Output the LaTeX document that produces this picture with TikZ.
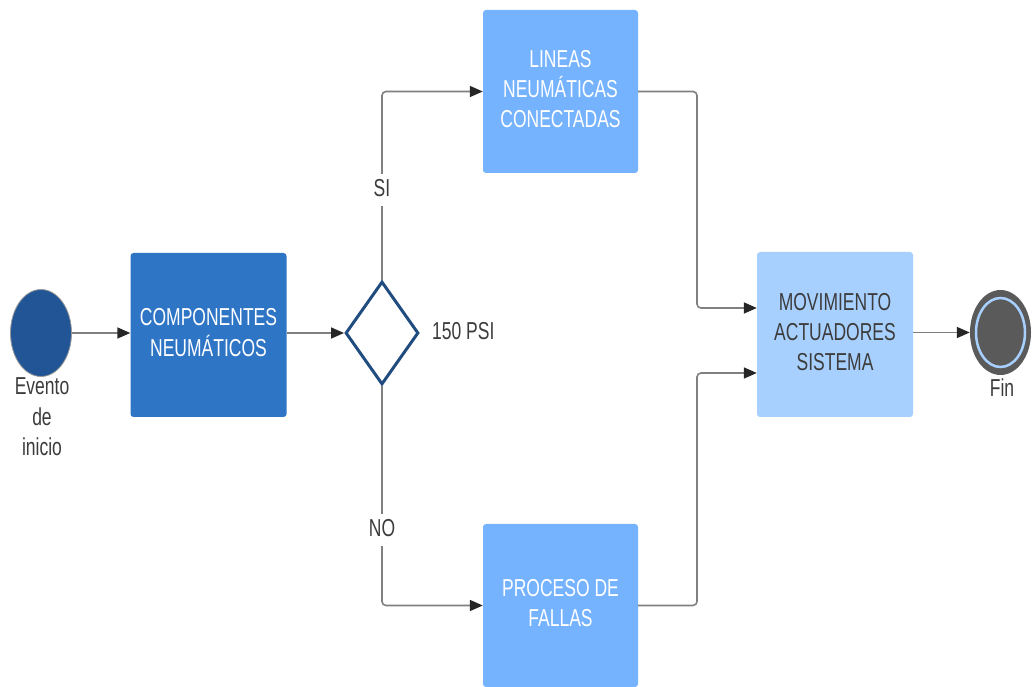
\documentclass[tikz,border=0pt]{standalone}
\usepackage{graphicx}
\usepackage{fontspec}
\setmainfont{Liberation Sans}
\usetikzlibrary{positioning,shapes.geometric,arrows.meta}
\definecolor{startblue}{RGB}{33,85,150}
\definecolor{compblue} {RGB}{46,117,198}
\definecolor{stepblue} {RGB}{118,179,255}
\definecolor{paleblue} {RGB}{168,208,255}
\definecolor{decblue}  {RGB}{32,76,128}
\definecolor{linegray} {RGB}{128,128,128}
\definecolor{textgray} {RGB}{60,60,60}
\definecolor{ringgray} {RGB}{90,90,90}
\newcommand{\tallText}[1]{\scalebox{1}[1.4]{\begin{tabular}{@{}c@{}}#1\end{tabular}}}

\tikzset{
  box/.style={rectangle, rounded corners=3pt, minimum width=156pt,
              minimum height=164pt, inner sep=0pt, font=\fontsize{17.5}{21.5}\selectfont},
  flow/.style={draw=linegray, line width=1.6pt, rounded corners=4pt,
               -{Triangle[length=13pt,width=11pt,fill=black!85,color=black!85]}},
  lbl/.style={text=textgray, inner sep=1pt, font=\fontsize{17.5}{21.5}\selectfont}
}

\begin{document}
\begin{tikzpicture}[x=1pt,y=1pt]
    \useasboundingbox (0,0) rectangle (1034,686);

    % eventos
    \node[ellipse, fill=startblue, draw=black!40, line width=0.8pt,
          minimum width=61pt, minimum height=87pt, inner sep=0pt] (inicio) at (41,353) {};
    \node[lbl] (inicio-lbl) at (42,267) {\tallText{Evento\\de\\inicio}};

    \node[ellipse, fill=ringgray, minimum width=61pt, minimum height=85pt,
          inner sep=0pt] (fin) at (1000.5,353.5) {};
    \node[ellipse, fill=ringgray, draw=paleblue, line width=2.5pt,
          minimum width=49pt, minimum height=69pt, inner sep=0pt] (fin-in) at (fin.center) {};
    \node[lbl] (fin-lbl) at (1002,296) {\tallText{Fin}};

    % tareas
    \node[box, fill=compblue, text=white] (comp) at (208.5,351)
      {\tallText{COMPONENTES\\NEUMÁTICOS}};
    \node[box, fill=stepblue, text=white, minimum width=155pt, minimum height=163pt]
      (lineas) at (560.5,594.5) {\tallText{LINEAS\\NEUMÁTICAS\\CONECTADAS}};
    \node[box, fill=stepblue, text=white, minimum width=155pt, minimum height=163pt]
      (proceso) at (560.5,80.5) {\tallText{PROCESO DE\\FALLAS}};
    \node[box, fill=paleblue, text=textgray, minimum height=165pt] (mov) at (835,351.5)
      {\tallText{MOVIMIENTO\\ACTUADORES\\SISTEMA}};

    % decision
    \node[diamond, draw=decblue, line width=3pt, fill=white, inner sep=0pt,
          minimum width=73pt, minimum height=103pt] (dec) at (382,353) {};
    \node[lbl, anchor=west] (psi) at (431,353) {\tallText{150 PSI}};

    \coordinate (jtop) at (697,378);
    \coordinate (jbot) at (697,313);

    % conectores
    \draw[flow] (inicio.east) -- (inicio.east -| comp.west);
    \draw[flow] (comp.east |- dec.west) -- (dec.west);
    \draw[flow] (dec.north) |- (lineas.west);
    \draw[flow] (dec.south) |- (proceso.west);
    \draw[flow] (lineas.east) -| (jtop) -- (jtop -| mov.west);
    \draw[flow] (proceso.east) -| (jbot) -- (jbot -| mov.west);
    \draw[flow] (mov.east |- fin.west) -- (fin.west);

    \node[lbl, fill=white] (si) at (382,496) {\tallText{SI}};
    \node[lbl, fill=white] (no) at (382,156) {\tallText{NO}};
\end{tikzpicture}
\end{document}
